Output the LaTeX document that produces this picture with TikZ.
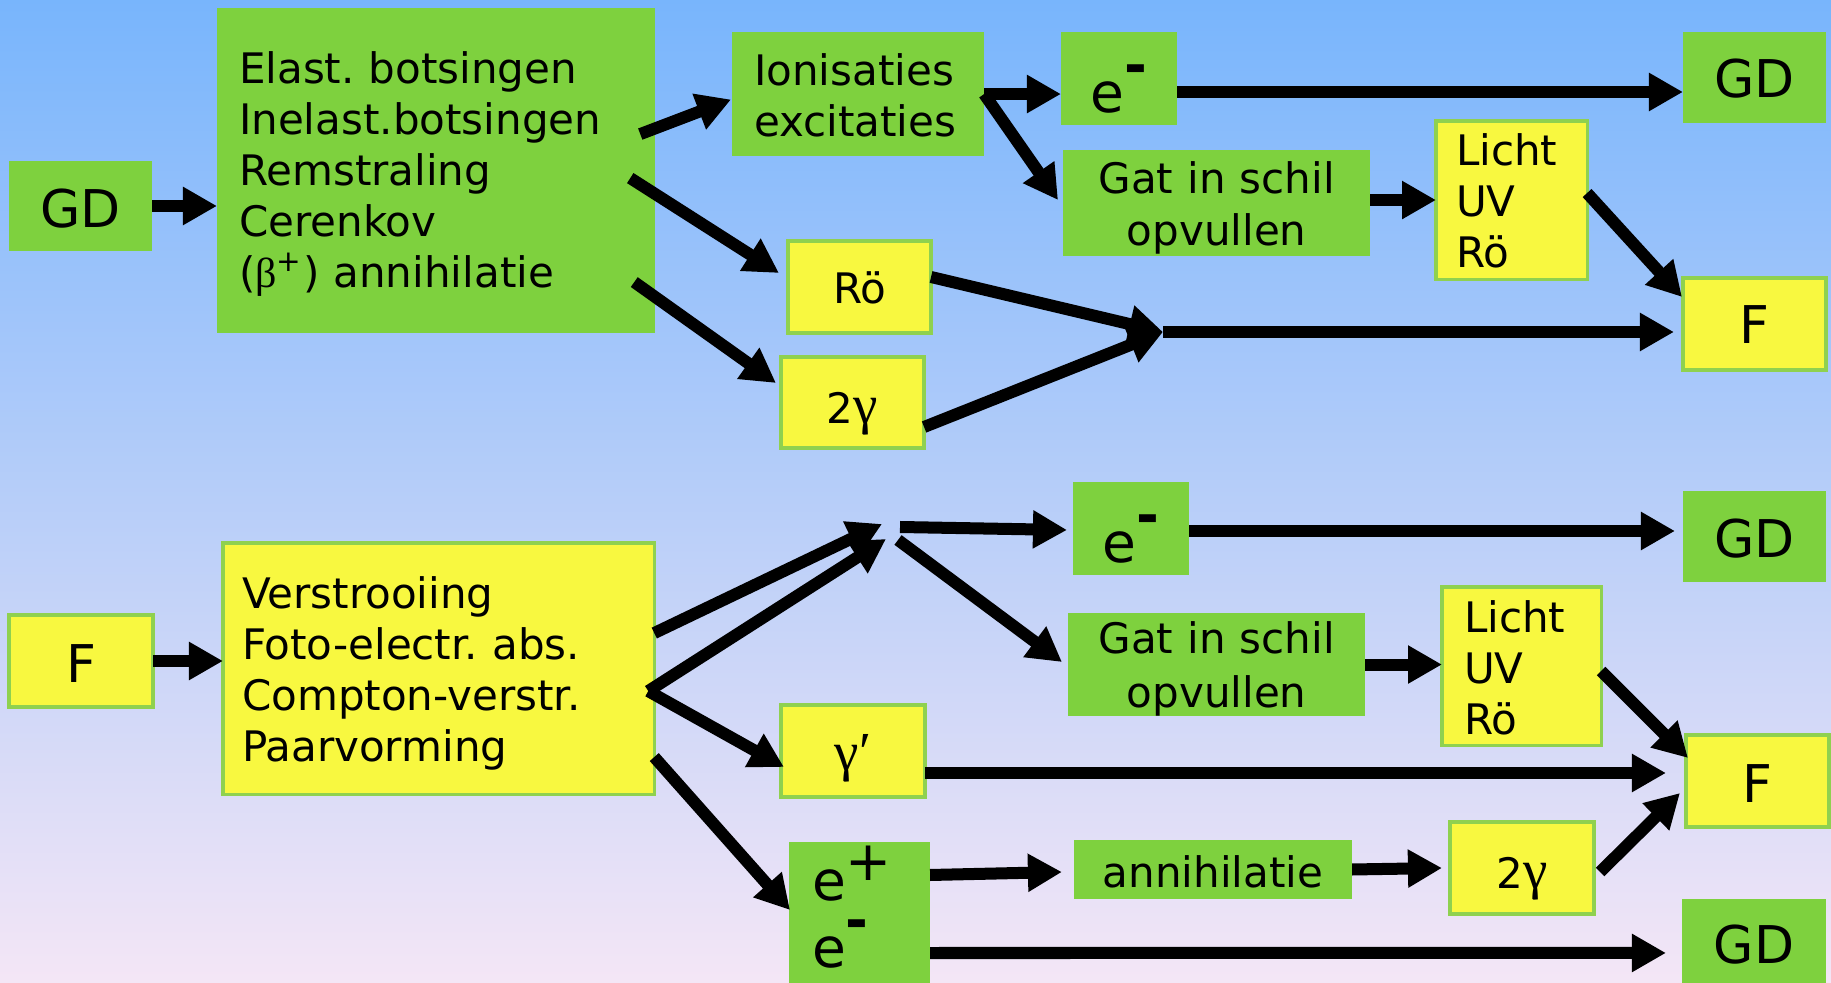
\documentclass[tikz,border=0pt]{standalone}
\usepackage{fontspec}
\setmainfont{DejaVu Sans}
\newfontfamily\greekfont{Liberation Serif}
\usepackage{xcolor}
\usepackage{tikz}
\usetikzlibrary{arrows.meta, calc}
\definecolor{boxgreen}{RGB}{126,209,62}
\definecolor{boxyellow}{RGB}{248,248,64}
\definecolor{boxedge}{RGB}{143,209,79}
\definecolor{bgtop}{RGB}{120,181,252}
\definecolor{bgmid}{RGB}{172,204,242}
\definecolor{bgbot}{RGB}{244,230,246}
\newcommand{\labelfont}{\fontsize{0.42cm}{0.51cm}\selectfont}
\newcommand{\bigfont}{\fontsize{0.52cm}{0.6cm}\selectfont}
\newcommand{\efont}{\fontsize{0.55cm}{0.67cm}\selectfont}
\newcommand{\eminus}{e\raisebox{0.5em}{\bfseries -}}
\newcommand{\eplus}{e\raisebox{0.35em}{+}}
\newcommand{\gam}{{\fontsize{0.55cm}{0.6cm}\greekfont γ}}
\tikzstyle{greenbox} = [rectangle, fill=boxgreen, inner sep=0pt, outer sep=0pt]
\tikzstyle{yellowbox} = [rectangle, fill=boxyellow, draw=boxedge, line width=0.9pt, inner sep=0pt, outer sep=0pt]
\tikzstyle{listtext} = [anchor=north west, align=left, inner ysep=0pt]
\tikzstyle{thickarrow} = [line width=0.12cm, -{Triangle[length=0.34cm,width=0.36cm]}]

\begin{document}
\frenchspacing
\begin{tikzpicture}[x=0.01cm, y=-0.01cm]
\useasboundingbox (0,0) rectangle (1831,983);
\clip (0,0) rectangle (1831,983);
\fill[top color=bgtop, middle color=bgmid, bottom color=bgbot] (0,0) rectangle (1831,983);

% charged particles
\node[greenbox, minimum width=1.43cm, minimum height=0.90cm, font=\bigfont, text height=0.42cm, text depth=0pt] (gdA) at (80.5,206) {GD};
\node[greenbox, listtext, font=\labelfont, text width=3.94cm, inner xsep=0.22cm, text height=0.75cm, text depth=2.50cm] (procA) at (217,8)
{Elast. botsingen\\Inelast.botsingen\\Remstraling\\Cerenkov\\({\greekfont β}\textsuperscript{+}) annihilatie};
\node[greenbox, listtext, font=\labelfont, text width=2.08cm, inner xsep=0.22cm, text height=0.53cm, text depth=0.71cm] (ionA) at (732,32)
{Ionisaties\\excitaties};
\node[greenbox, minimum width=1.16cm, minimum height=0.93cm, font=\efont, text height=0.67cm, text depth=0pt] (eA) at (1119,78.5) {\eminus};
\node[greenbox, minimum width=1.43cm, minimum height=0.91cm, font=\bigfont, text height=0.41cm, text depth=0pt] (gdB) at (1754.5,77.5) {GD};
\node[greenbox, anchor=north west, align=center, inner sep=0pt, font=\fontsize{0.42cm}{0.52cm}\selectfont, text width=3.07cm, text height=0.43cm, text depth=0.63cm] (gatA) at (1063,150)
{Gat in schil\\opvullen};
\node[yellowbox, listtext, font=\labelfont, text width=1.11cm, inner xsep=0.20cm, text height=0.44cm, text depth=1.14cm] (lichtA) at (1436,121)
{Licht\\UV\\Rö};
\node[yellowbox, minimum width=1.43cm, minimum height=0.92cm, font=\labelfont, text height=0.32cm, text depth=0pt] (roA) at (859.5,287) {Rö};
\node[yellowbox, minimum width=1.43cm, minimum height=0.91cm, font=\labelfont, text height=0.41cm, text depth=0pt] (ggA) at (852.5,402.5) {2\gam};
\node[yellowbox, minimum width=1.43cm, minimum height=0.92cm, font=\bigfont, text height=0.38cm, text depth=0pt] (fA) at (1754.5,324) {F};
\coordinate (mgA) at (1163,332);

\draw[thickarrow] (gdA) -- (gdA -| procA.west);
\draw[thickarrow] ([shift={(-15,-36.5)}]procA.east) -- ([shift={(-1,5.5)}]ionA.west);
\draw[thickarrow] ([shift={(-25,7.5)}]procA.east) -- ([shift={(-9,-14)}]roA.west);
\draw[thickarrow] ([shift={(-21,111.5)}]procA.east) -- ([shift={(-5,-19.5)}]ggA.west);
\draw[thickarrow] (ionA.east) -- (ionA.east -| eA.west);
\draw[thickarrow] (ionA.east) -- ([shift={(-5,-3)}]gatA.west);
\draw[thickarrow] ([shift={(0,13.5)}]eA.east) -- ([shift={(0,14.5)}]gdB.west);
\draw[thickarrow] (gatA.east |- lichtA.west) -- (lichtA.west);
\draw[thickarrow] ([shift={(0,-7)}]lichtA.east) -- ([shift={(-1,19)}]fA.north west);
\draw[thickarrow] ([shift={(0,-10)}]roA.east) -- (mgA);
\draw[thickarrow] ([shift={(0,24.5)}]ggA.east) -- (mgA);
\draw[thickarrow] (mgA) -- ([shift={(-9,8)}]fA.west);

% photons
\node[yellowbox, minimum width=1.44cm, minimum height=0.92cm, font=\bigfont, text height=0.42cm, text depth=0pt] (fB) at (81,661) {F};
\node[yellowbox, listtext, font=\labelfont, text width=3.93cm, inner xsep=0.19cm, text height=0.65cm, text depth=1.86cm] (procB) at (223,543)
{Verstrooiing\\Foto-electr. abs.\\Compton-verstr.\\Paarvorming};
\coordinate (spA) at (884,531);
\node[greenbox, minimum width=1.16cm, minimum height=0.93cm, font=\efont, text height=0.67cm, text depth=0pt] (eB) at (1131,528.5) {\eminus};
\node[greenbox, minimum width=1.43cm, minimum height=0.91cm, font=\bigfont, text height=0.41cm, text depth=0pt] (gdC) at (1754.5,536.5) {GD};
\node[greenbox, anchor=north west, align=center, inner sep=0pt, font=\fontsize{0.42cm}{0.54cm}\selectfont, text width=2.97cm, text height=0.40cm, text depth=0.63cm] (gatB) at (1068,613)
{Gat in schil\\opvullen};
\node[yellowbox, listtext, font=\labelfont, text width=1.15cm, inner xsep=0.22cm, text height=0.45cm, text depth=1.13cm] (lichtB) at (1442,587)
{Licht\\UV\\Rö};
\node[yellowbox, minimum width=1.43cm, minimum height=0.92cm, font=\bigfont, text height=0.42cm, text depth=0pt] (fC) at (1757.5,781) {F};
\node[yellowbox, minimum width=1.44cm, minimum height=0.92cm, font=\fontsize{0.55cm}{0.6cm}\greekfont, text height=0.38cm, text depth=0pt] (gpB) at (853,751) {γ′};
\node[greenbox, listtext, font=\efont, text width=0.95cm, inner xsep=0.23cm, text height=0.58cm, text depth=1.58cm] (epm) at (789,842)
{\eplus\\\eminus};
\node[greenbox, minimum width=2.78cm, minimum height=0.59cm, font=\labelfont, text height=0.35cm, text depth=0pt] (annB) at (1213,869.5) {annihilatie};
\node[yellowbox, minimum width=1.44cm, minimum height=0.92cm, font=\labelfont, text height=0.40cm, text depth=0pt] (ggB) at (1522,868) {2\gam};
\node[greenbox, minimum width=1.44cm, minimum height=1.28cm, font=\bigfont, text height=0.2cm, text depth=0.2cm] (gdD) at (1754,963) {GD};

\draw[thickarrow] (fB) -- (fB -| procB.west);
\draw[thickarrow] ([shift={(0,-35.5)}]procB.east) -- ([shift={(-2,-7)}]spA);
\draw[thickarrow] ([shift={(-6,22.5)}]procB.east) -- ([shift={(2,8)}]spA);
\draw[thickarrow] ([shift={(-6,22.5)}]procB.east) -- ([shift={(3,16)}]gpB.west);
\draw[thickarrow] ([shift={(0,88.5)}]procB.east) -- ([shift={(1,68)}]epm.north west);
\draw[thickarrow] ([shift={(16,-4)}]spA) -- ([shift={(-6,1.5)}]eB.west);
\draw[thickarrow] ([shift={(14,9)}]spA) -- ([shift={(-6,-2.5)}]gatB.west);
\draw[thickarrow] ([shift={(0,2.5)}]eB.east) -- ([shift={(-8,-5.5)}]gdC.west);
\draw[thickarrow] (gatB.east) -- (gatB.east -| lichtB.west);
\draw[thickarrow] ([shift={(0,5)}]lichtB.east) -- ([shift={(2,23)}]fC.north west);
\draw[thickarrow] ([shift={(0,22)}]gpB.east) -- ([shift={(-20,-8)}]fC.west);
\draw[thickarrow] ([shift={(6,4)}]ggB.east) -- ([shift={(-6,12)}]fC.west);
\draw[thickarrow] ([shift={(0,33)}]epm.north east) -- ([shift={(-12,2.5)}]annB.west);
\draw[thickarrow] (annB.east) -- ([shift={(-8,0)}]ggB.west);
\draw[thickarrow] ([shift={(0,111)}]epm.north east) -- ([shift={(-16,54)}]gdD.north west);
\end{tikzpicture}
\end{document}
